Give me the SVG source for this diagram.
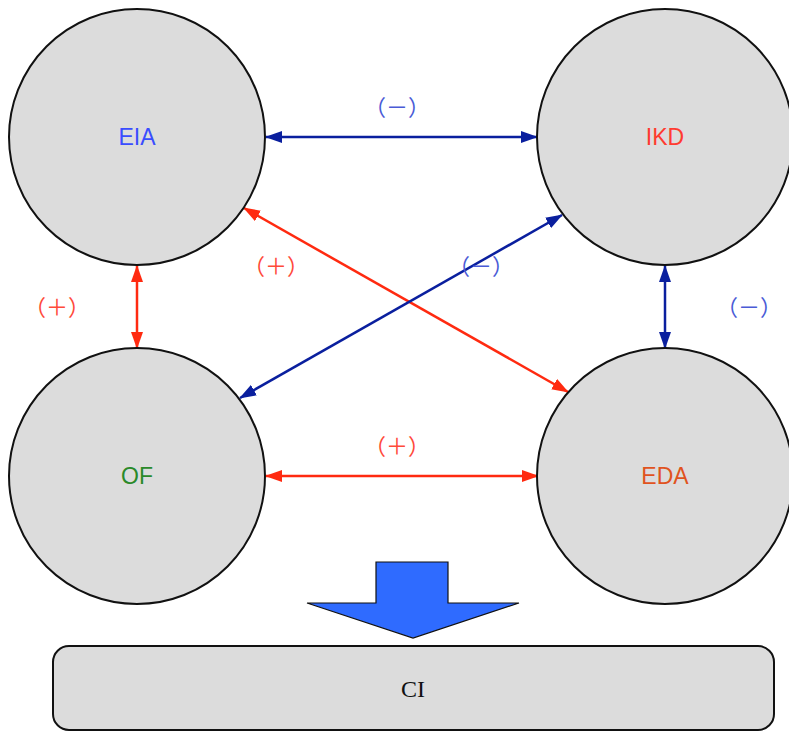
<svg xmlns="http://www.w3.org/2000/svg" width="789" height="733" viewBox="0 0 789 733">
  <style>
    .node circle { fill: #dcdcdc; stroke: #111; stroke-width: 2; }
    .lbl { font-family: "Liberation Sans", Arial, sans-serif; font-size: 23px; text-anchor: middle; dominant-baseline: central; }
    .sign { font-family: "Noto Sans CJK JP", "Liberation Sans", sans-serif; font-size: 22px; text-anchor: middle; dominant-baseline: central; }
    .neg { fill: #4a5bd6; }
    .pos { fill: #ff4a3a; }
    .blue { stroke: #0a1f9e; stroke-width: 2.5; fill: none; }
    .red { stroke: #ff2a10; stroke-width: 2.5; fill: none; }
  </style>
  <defs>
    <marker id="ahBlue" viewBox="0 0 17 12" refX="16" refY="6" markerWidth="17" markerHeight="12" markerUnits="userSpaceOnUse" orient="auto-start-reverse">
      <path d="M0,0 L17,6 L0,12 Z" fill="#0a1f9e"/>
    </marker>
    <marker id="ahRed" viewBox="0 0 17 12" refX="16" refY="6" markerWidth="17" markerHeight="12" markerUnits="userSpaceOnUse" orient="auto-start-reverse">
      <path d="M0,0 L17,6 L0,12 Z" fill="#ff2a10"/>
    </marker>
  </defs>

  <g id="connectors">
    <line class="blue" x1="266" y1="137" x2="537" y2="137" marker-start="url(#ahBlue)" marker-end="url(#ahBlue)"/>
    <line class="red" x1="137" y1="266" x2="137" y2="348" marker-start="url(#ahRed)" marker-end="url(#ahRed)"/>
    <line class="blue" x1="665" y1="266" x2="665" y2="348" marker-start="url(#ahBlue)" marker-end="url(#ahBlue)"/>
    <line class="red" x1="266" y1="476" x2="538" y2="476" marker-start="url(#ahRed)" marker-end="url(#ahRed)"/>
    <line class="red" x1="244" y1="208" x2="568" y2="392" marker-start="url(#ahRed)" marker-end="url(#ahRed)"/>
    <line class="blue" x1="562" y1="215" x2="240" y2="398" marker-start="url(#ahBlue)" marker-end="url(#ahBlue)"/>
  </g>

  <g id="signs">
    <text class="sign neg" x="397" y="105">（－）</text>
    <text class="sign pos" x="57" y="305">（＋）</text>
    <text class="sign neg" x="749" y="305">（－）</text>
    <text class="sign pos" x="276" y="264">（＋）</text>
    <text class="sign neg" x="481" y="264">（－）</text>
    <text class="sign pos" x="397" y="444">（＋）</text>
  </g>

  <g id="node-EIA" class="node">
    <circle cx="137" cy="137" r="128"/>
    <text class="lbl" x="137" y="137" fill="#3a4dff">EIA</text>
  </g>
  <g id="node-IKD" class="node">
    <circle cx="665" cy="137" r="128"/>
    <text class="lbl" x="665" y="137" fill="#ff3b30">IKD</text>
  </g>
  <g id="node-OF" class="node">
    <circle cx="137" cy="476" r="128"/>
    <text class="lbl" x="137" y="476" fill="#2a8a2a">OF</text>
  </g>
  <g id="node-EDA" class="node">
    <circle cx="665" cy="476" r="128"/>
    <text class="lbl" x="665" y="476" fill="#e0531e">EDA</text>
  </g>

  <g id="result-arrow">
    <path d="M376,562 L448,562 L448,603 L519,603 L413,638 L307,603 L376,603 Z" fill="#2f6bff" stroke="#111" stroke-width="1.2" stroke-linejoin="miter"/>
  </g>

  <g id="node-CI">
    <rect x="53" y="646" width="721" height="84" rx="16" ry="16" fill="#dcdcdc" stroke="#111" stroke-width="2"/>
    <text x="413" y="689" font-family="'Liberation Serif', 'Times New Roman', serif" font-size="24" text-anchor="middle" dominant-baseline="central" fill="#111">CI</text>
  </g>
</svg>
